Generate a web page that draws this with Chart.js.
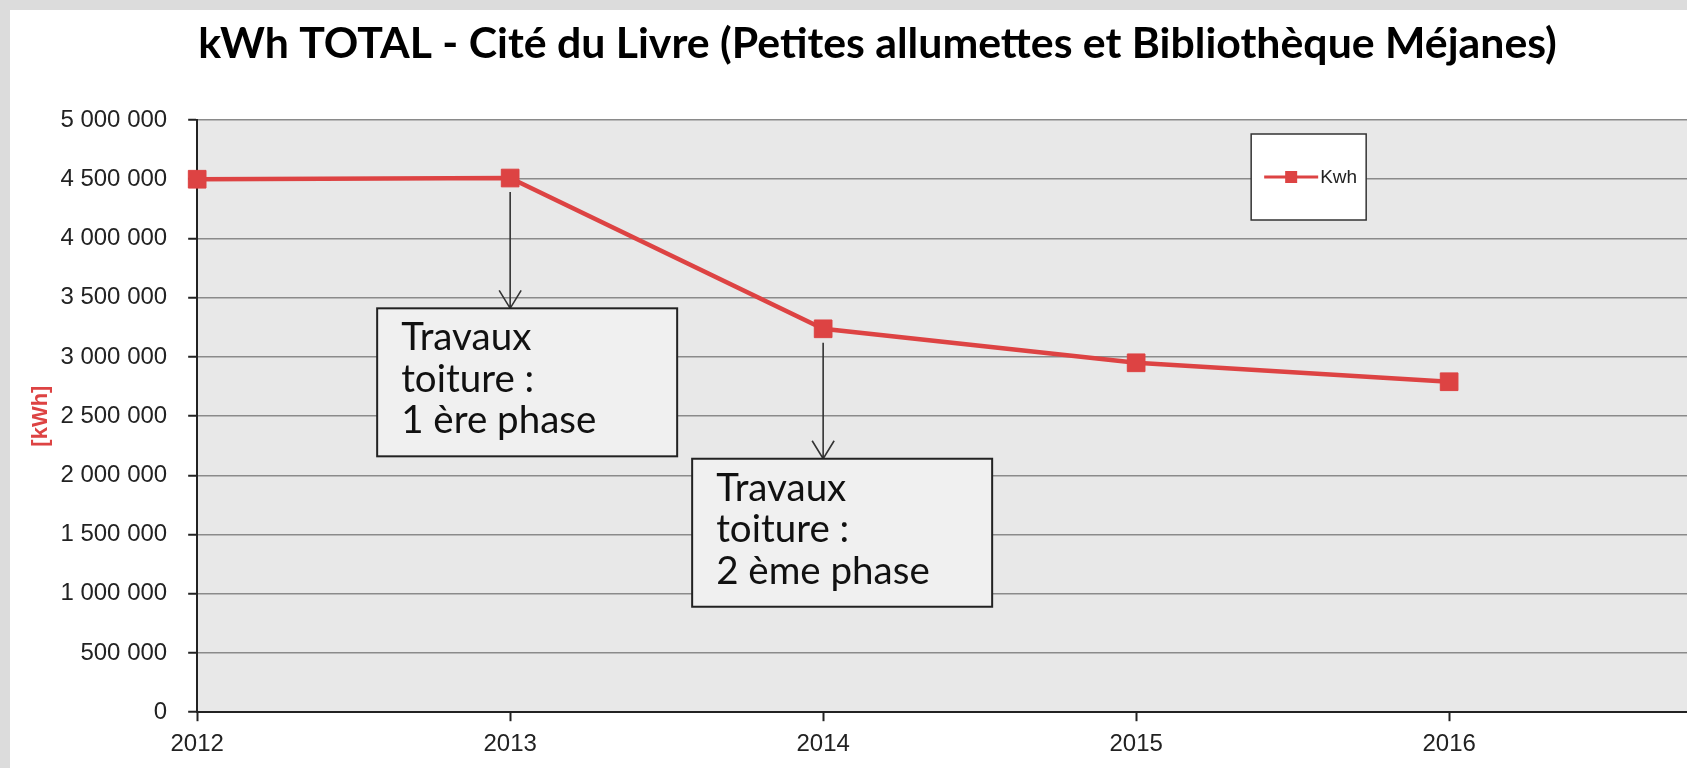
<!DOCTYPE html>
<html>
<head>
<meta charset="utf-8">
<script src="https://cdn.jsdelivr.net/npm/chart.js@4.4.1/dist/chart.umd.min.js"></script>
<style>
  html, body { margin: 0; background: #dcdcdc; overflow: hidden; }
  #wrap { position: fixed; left: 10px; top: 10px; right: 0; bottom: 0; background: #fff; }
</style>
</head>
<body>
<div id="wrap"><canvas id="lineChart"></canvas></div>
<script>
//  Data
var years = [2012, 2013, 2014, 2015, 2016];
var kwh = [4500000, 4510000, 3237000, 2950000, 2790000];
var seriesLabel = "Kwh";
var chartTitle = "kWh TOTAL - Cité du Livre (Petites allumettes et Bibliothèque Méjanes)";
var yTitle = "[kWh]";
var noteYears = [2013, 2014];
var noteLines = [
    ["Travaux", "toiture :", "1 ère phase"],
    ["Travaux", "toiture :", "2 ème phase"]
];

var red = "#dd4343";

//  grey plot background
var plotBg = {
    id: 'plotBg',
    beforeDraw: function(chart) {
        var a = chart.chartArea, ctx = chart.ctx;
        ctx.save();
        ctx.fillStyle = "#e8e8e8";
        ctx.fillRect(a.left, a.top, a.right - a.left, a.bottom - a.top);
        ctx.restore();
    }
};

//  title (the original is not centred on the cropped picture), legend box and notes
var extras = {
    id: 'extras',
    afterDraw: function(chart, args, opts) {
        var ctx = chart.ctx, a = chart.chartArea;
        var xs = chart.scales.x, ys = chart.scales.y;
        ctx.save();

        // title
        ctx.fillStyle = "#000";
        ctx.font = "bold 42.8px Lato";
        ctx.textAlign = "center";
        ctx.textBaseline = "alphabetic";
        ctx.fillText(chartTitle, chart.width / 2 + opts.title.dx, opts.title.y);
        ctx.textAlign = "left";

        // legend
        var lx = a.left + opts.legend.dx, ly = a.top + opts.legend.dy;
        ctx.fillStyle = "#fff";
        ctx.fillRect(lx, ly, opts.legend.w, opts.legend.h);
        ctx.strokeStyle = "#333";
        ctx.lineWidth = 1.5;
        ctx.strokeRect(lx, ly, opts.legend.w, opts.legend.h);
        var my = ly + opts.legend.h / 2;
        ctx.strokeStyle = red;
        ctx.lineWidth = 3;
        ctx.beginPath();
        ctx.moveTo(lx + 13, my);
        ctx.lineTo(lx + 67, my);
        ctx.stroke();
        ctx.fillStyle = red;
        ctx.fillRect(lx + 34, my - 6, 12, 12);
        ctx.fillStyle = "#222";
        ctx.font = "19px 'Liberation Sans'";
        ctx.textBaseline = "middle";
        ctx.fillText(seriesLabel, lx + 69, my + 1);

        // notes
        noteYears.forEach(function(yr, i) {
            var b = opts.boxes[i];
            var px = xs.getPixelForValue(yr);
            var py = ys.getPixelForValue(kwh[years.indexOf(yr)]);
            var top = ys.getPixelForValue(b.top);
            var left = px + b.dx;
            ctx.strokeStyle = "#333";
            ctx.lineWidth = 1.6;
            ctx.beginPath();
            ctx.moveTo(px, py + 14);
            ctx.lineTo(px, top);
            ctx.moveTo(px - 11, top - 18);
            ctx.lineTo(px, top);
            ctx.lineTo(px + 11, top - 18);
            ctx.stroke();
            ctx.fillStyle = "#f0f0f0";
            ctx.fillRect(left, top, b.w, b.h);
            ctx.strokeStyle = "#222";
            ctx.lineWidth = 2;
            ctx.strokeRect(left, top, b.w, b.h);
            ctx.fillStyle = "#111";
            ctx.font = "38.5px Lato";
            ctx.textBaseline = "alphabetic";
            noteLines[i].forEach(function(t, j) {
                ctx.fillText(t, left + 24, top + 42 + j * 41.5);
            });
        });
        ctx.restore();
    }
};

Chart.defaults.font.family = "'Liberation Sans', Arial, sans-serif";
Chart.defaults.color = "#222";

var points = years.map(function(y, i) { return {x: y, y: kwh[i]}; });

new Chart(document.getElementById("lineChart"), {
    type: 'line',
    data: {
        datasets: [{
            label: seriesLabel,
            data: points,
            borderColor: red,
            backgroundColor: red,
            borderWidth: 4.5,
            fill: false,
            clip: false,
            lineTension: 0,
            pointStyle: 'rect',
            pointRadius: 12.5,
            pointBorderWidth: 1,
            pointBorderColor: red,
            pointBackgroundColor: red
        }]
    },
    options: {
        responsive: true,
        maintainAspectRatio: false,
        animation: false,
        layout: {autoPadding: false, padding: {left: 0, right: 0, top: 110, bottom: 0}},
        plugins: {
            legend: {display: false},
            tooltip: {enabled: false},
            title: {display: false},
            extras: {
                title: {dx: 29, y: 48},
                legend: {dx: 1054, dy: 14, w: 115, h: 86},
                boxes: [
                    {top: 3410000, dx: -133, w: 300, h: 148},
                    {top: 2140000, dx: -131, w: 300, h: 148}
                ]
            }
        },
        scales: {
            x: {
                type: 'linear',
                min: 2012,
                max: 2016.76,
                offset: false,
                grid: {drawOnChartArea: false, tickColor: "#222", tickLength: 9, tickWidth: 2},
                border: {color: "#222", width: 2},
                ticks: {
                    stepSize: 1,
                    includeBounds: false,
                    padding: 9,
                    font: {size: 24},
                    color: "#222",
                    callback: function(v) { return String(v); }
                }
            },
            y: {
                min: 0,
                max: 5000000,
                grid: {color: "#8a8a8a", lineWidth: 1.5, tickColor: "#222", tickLength: 9, tickWidth: 2},
                border: {color: "#222", width: 2},
                title: {
                    display: true,
                    text: yTitle,
                    color: red,
                    font: {size: 22, weight: 'bold'},
                    padding: {top: 18, bottom: -15}
                },
                ticks: {
                    stepSize: 500000,
                    padding: 21,
                    font: {size: 24},
                    color: "#222",
                    callback: function(v) { return String(v).replace(/\B(?=(\d{3})+(?!\d))/g, " "); }
                }
            }
        }
    },
    plugins: [plotBg, extras]
});
</script>
</body>
</html>
